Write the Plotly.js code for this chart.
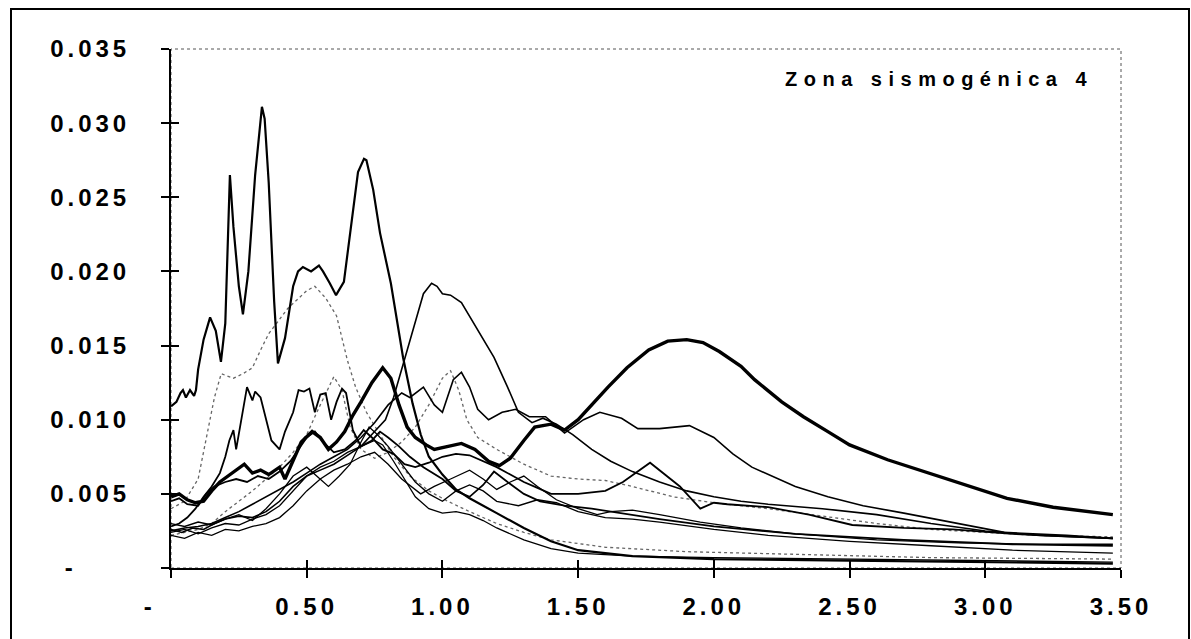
<!DOCTYPE html>
<html>
<head>
<meta charset="utf-8">
<script src="https://cdn.plot.ly/plotly-3.0.1.min.js"></script>
<style>
  html, body { margin: 0; padding: 0; background: #fff; }
  #chart { width: 1191px; height: 639px; }
  .xtick text, .ytick text { letter-spacing: 4px; }
  .annotation-text { letter-spacing: 6.5px; }
</style>
</head>
<body>
<div id="chart"></div>
<script>
// ---- Data (period T in s, spectral value) ----
const NB = '\u00A0';
const xTickVals = [0, 0.5, 1.0, 1.5, 2.0, 2.5, 3.0, 3.5];
const xTickText = ['-' + NB.repeat(4), '0.50', '1.00', '1.50', '2.00', '2.50', '3.00', '3.50'];
const yTickVals = [0, 0.005, 0.010, 0.015, 0.020, 0.025, 0.030, 0.035];
const yTickText = ['-' + NB.repeat(5), '0.005', '0.010', '0.015', '0.020', '0.025', '0.030', '0.035'];
const chartTitle = 'Zona sismogénica 4';

const serieA = [[0,0.0109],[0.02,0.0112],[0.035,0.0118],[0.044,0.0120],[0.055,0.0115],[0.07,0.0120],[0.085,0.0116],[0.092,0.0120],[0.10,0.0134],[0.12,0.0154],[0.144,0.0169],[0.165,0.0160],[0.184,0.0139],[0.20,0.0165],[0.217,0.0265],[0.23,0.0230],[0.25,0.0190],[0.265,0.0171],[0.285,0.0200],[0.31,0.0265],[0.335,0.0311],[0.345,0.0303],[0.36,0.0260],[0.38,0.0180],[0.394,0.0138],[0.42,0.0155],[0.45,0.0190],[0.468,0.0200],[0.486,0.0203],[0.516,0.0200],[0.545,0.0204],[0.56,0.0200],[0.585,0.0192],[0.608,0.0184],[0.637,0.0193],[0.66,0.0225],[0.689,0.0267],[0.711,0.0276],[0.72,0.0275],[0.745,0.0255],[0.77,0.0226],[0.81,0.0192],[0.855,0.0142],[0.89,0.0111],[0.92,0.0090],[0.95,0.0075],[1.0,0.0063],[1.05,0.0053],[1.1,0.0047],[1.2,0.0037],[1.3,0.0027],[1.4,0.0018],[1.5,0.0012],[1.7,0.0008],[2.0,0.0006],[2.5,0.0005],[3.0,0.0004],[3.47,0.0003]];

const serieB = [[0,0.0048],[0.03,0.0050],[0.06,0.0046],[0.09,0.0044],[0.12,0.0045],[0.15,0.0052],[0.18,0.0058],[0.21,0.0062],[0.24,0.0066],[0.27,0.0070],[0.30,0.0064],[0.33,0.0066],[0.36,0.0063],[0.40,0.0068],[0.42,0.0060],[0.45,0.0072],[0.48,0.0085],[0.52,0.0092],[0.55,0.0088],[0.58,0.0080],[0.61,0.0085],[0.64,0.0092],[0.67,0.0103],[0.70,0.0112],[0.74,0.0125],[0.78,0.0135],[0.81,0.0128],[0.84,0.0110],[0.87,0.0095],[0.90,0.0088],[0.94,0.0083],[0.97,0.0080],[1.02,0.0082],[1.07,0.0084],[1.12,0.0080],[1.17,0.0072],[1.21,0.0069],[1.25,0.0074],[1.30,0.0086],[1.34,0.0095],[1.40,0.0097],[1.45,0.0093],[1.50,0.0100],[1.55,0.0110],[1.61,0.0122],[1.68,0.0135],[1.76,0.0147],[1.83,0.0153],[1.90,0.0154],[1.96,0.0152],[2.02,0.0146],[2.10,0.0136],[2.15,0.0127],[2.25,0.0112],[2.33,0.0102],[2.42,0.0092],[2.50,0.0083],[2.64,0.0073],[2.76,0.0066],[2.88,0.0059],[3.00,0.0052],[3.08,0.0047],[3.25,0.0041],[3.38,0.0038],[3.47,0.0036]];

const serieC = [[0,0.0025],[0.05,0.0027],[0.1,0.0028],[0.15,0.0030],[0.2,0.0034],[0.25,0.0038],[0.3,0.0043],[0.35,0.0048],[0.4,0.0053],[0.45,0.0058],[0.5,0.0064],[0.55,0.0070],[0.6,0.0075],[0.65,0.0080],[0.7,0.0088],[0.75,0.0098],[0.80,0.0110],[0.85,0.0118],[0.88,0.0115],[0.93,0.0122],[0.97,0.0110],[1.0,0.0105],[1.04,0.0127],[1.07,0.0132],[1.10,0.0122],[1.13,0.0107],[1.17,0.0100],[1.22,0.0105],[1.27,0.0107],[1.32,0.0102],[1.38,0.0102],[1.45,0.0091],[1.52,0.0100],[1.58,0.0105],[1.66,0.0101],[1.72,0.0094],[1.80,0.0094],[1.91,0.0096],[2.0,0.0088],[2.07,0.0077],[2.14,0.0068],[2.3,0.0055],[2.42,0.0048],[2.55,0.0042],[2.70,0.0037],[2.9,0.0030],[3.07,0.0024],[3.3,0.0022],[3.47,0.0020]];

const serieD = [[0,0.0028],[0.03,0.0030],[0.06,0.0034],[0.09,0.0040],[0.12,0.0048],[0.15,0.0055],[0.18,0.0064],[0.2,0.0075],[0.215,0.0086],[0.23,0.0093],[0.24,0.0080],[0.255,0.0095],[0.28,0.0122],[0.30,0.0113],[0.31,0.0119],[0.33,0.0115],[0.37,0.0086],[0.40,0.0080],[0.42,0.0092],[0.45,0.0105],[0.47,0.0120],[0.49,0.0119],[0.51,0.0121],[0.53,0.0105],[0.55,0.0117],[0.57,0.0118],[0.59,0.0100],[0.61,0.0112],[0.63,0.0121],[0.645,0.0118],[0.67,0.0093],[0.70,0.0082],[0.74,0.0086],[0.77,0.0092],[0.80,0.0088],[0.84,0.0082],[0.88,0.0075],[0.93,0.0068],[1.0,0.0060],[1.05,0.0052],[1.10,0.0048],[1.15,0.0056],[1.19,0.0065],[1.24,0.0058],[1.30,0.0050],[1.36,0.0045],[1.45,0.0042],[1.55,0.0040],[1.65,0.0037],[1.8,0.0033],[2.0,0.0028],[2.3,0.0023],[2.7,0.0019],[3.1,0.0016],[3.47,0.0015]];

const serieE = [[0,0.0026],[0.04,0.0024],[0.08,0.0027],[0.12,0.0026],[0.16,0.0030],[0.2,0.0033],[0.25,0.0035],[0.3,0.0034],[0.35,0.0038],[0.40,0.0045],[0.45,0.0055],[0.50,0.0062],[0.55,0.0066],[0.60,0.0070],[0.65,0.0076],[0.70,0.0082],[0.75,0.0092],[0.79,0.0100],[0.82,0.0115],[0.86,0.0140],[0.90,0.0165],[0.93,0.0185],[0.96,0.0192],[0.98,0.0190],[1.00,0.0185],[1.03,0.0184],[1.07,0.0179],[1.13,0.0160],[1.19,0.0142],[1.24,0.0122],[1.28,0.0105],[1.33,0.0098],[1.37,0.0101],[1.42,0.0097],[1.48,0.0090],[1.55,0.0080],[1.62,0.0072],[1.70,0.0065],[1.80,0.0058],[1.90,0.0052],[2.0,0.0048],[2.1,0.0045],[2.2,0.0043],[2.4,0.0040],[2.6,0.0036],[2.8,0.0030],[3.0,0.0025],[3.2,0.0022],[3.47,0.0020]];

const serieG = [[0,0.0045],[0.03,0.0047],[0.06,0.0043],[0.1,0.0042],[0.13,0.0050],[0.16,0.0055],[0.2,0.0058],[0.24,0.0060],[0.28,0.0058],[0.32,0.0062],[0.36,0.0060],[0.40,0.0065],[0.44,0.0072],[0.47,0.0080],[0.50,0.0088],[0.53,0.0092],[0.56,0.0085],[0.60,0.0078],[0.64,0.0080],[0.68,0.0086],[0.71,0.0093],[0.74,0.0088],[0.78,0.0080],[0.82,0.0077],[0.86,0.0070],[0.90,0.0068],[0.95,0.0071],[1.0,0.0075],[1.05,0.0077],[1.10,0.0076],[1.15,0.0072],[1.20,0.0068],[1.25,0.0063],[1.30,0.0058],[1.35,0.0054],[1.40,0.0050],[1.50,0.0050],[1.60,0.0052],[1.665,0.0058],[1.765,0.0071],[1.875,0.0055],[1.95,0.0040],[2.0,0.0044],[2.05,0.0043],[2.2,0.0041],[2.35,0.0036],[2.51,0.0029],[2.7,0.0027],[2.88,0.0026],[3.1,0.0023],[3.47,0.0020]];

const serieH = [[0,0.0040],[0.05,0.0045],[0.1,0.0060],[0.13,0.0088],[0.145,0.0102],[0.16,0.0115],[0.185,0.0131],[0.23,0.0128],[0.265,0.0131],[0.30,0.0135],[0.33,0.0147],[0.36,0.0158],[0.43,0.0175],[0.5,0.0187],[0.53,0.0190],[0.57,0.0182],[0.61,0.0170],[0.65,0.0140],[0.68,0.0122],[0.72,0.0105],[0.77,0.0090],[0.82,0.0075],[0.88,0.0062],[0.95,0.0052],[1.02,0.0045],[1.1,0.0038],[1.2,0.0030],[1.3,0.0024],[1.4,0.0019],[1.6,0.0014],[1.9,0.0011],[2.3,0.0009],[2.8,0.0007],[3.47,0.0006]];

const serieI = [[0,0.0022],[0.05,0.0024],[0.1,0.0026],[0.15,0.0030],[0.2,0.0038],[0.25,0.0045],[0.3,0.0052],[0.35,0.0060],[0.40,0.0068],[0.45,0.0078],[0.50,0.0090],[0.55,0.0110],[0.60,0.0129],[0.63,0.0120],[0.66,0.0095],[0.70,0.0080],[0.75,0.0074],[0.80,0.0078],[0.85,0.0085],[0.90,0.0095],[0.95,0.0110],[1.0,0.0128],[1.03,0.0133],[1.06,0.0120],[1.09,0.0100],[1.13,0.0088],[1.2,0.0080],[1.3,0.0070],[1.4,0.0062],[1.5,0.0060],[1.6,0.0059],[1.7,0.0055],[1.85,0.0048],[2.0,0.0044],[2.2,0.0040],[2.4,0.0035],[2.6,0.0030],[2.8,0.0026],[3.0,0.0024],[3.2,0.0022],[3.47,0.0021]];

const serieJ = [[0,0.0024],[0.05,0.0026],[0.1,0.0023],[0.15,0.0027],[0.2,0.0030],[0.25,0.0029],[0.3,0.0033],[0.35,0.0036],[0.40,0.0042],[0.45,0.0052],[0.5,0.0062],[0.55,0.0068],[0.6,0.0072],[0.65,0.0078],[0.70,0.0082],[0.75,0.0086],[0.78,0.0083],[0.82,0.0072],[0.86,0.0060],[0.90,0.0048],[0.95,0.0040],[1.0,0.0037],[1.05,0.0038],[1.10,0.0036],[1.15,0.0032],[1.2,0.0027],[1.3,0.0019],[1.4,0.0013],[1.5,0.0010],[1.7,0.0008],[2.0,0.0007],[2.5,0.0006],[3.0,0.0005],[3.47,0.0004]];

const serieK = [[0,0.0030],[0.05,0.0028],[0.1,0.0031],[0.15,0.0029],[0.2,0.0033],[0.25,0.0036],[0.3,0.0032],[0.35,0.0040],[0.4,0.0050],[0.45,0.0062],[0.5,0.0068],[0.55,0.0060],[0.58,0.0055],[0.62,0.0062],[0.66,0.0070],[0.70,0.0085],[0.73,0.0095],[0.76,0.0090],[0.80,0.0082],[0.85,0.0070],[0.90,0.0058],[0.95,0.0050],[1.0,0.0045],[1.05,0.0052],[1.10,0.0056],[1.15,0.0052],[1.2,0.0045],[1.28,0.0042],[1.35,0.0046],[1.42,0.0044],[1.5,0.0038],[1.6,0.0034],[1.7,0.0033],[1.8,0.0031],[2.0,0.0026],[2.2,0.0022],[2.5,0.0018],[2.8,0.0015],[3.1,0.0012],[3.47,0.0010]];

const serieL = [[0,0.0022],[0.05,0.0020],[0.1,0.0024],[0.15,0.0022],[0.2,0.0026],[0.25,0.0025],[0.3,0.0028],[0.35,0.0030],[0.4,0.0034],[0.45,0.0042],[0.5,0.0052],[0.55,0.0060],[0.6,0.0066],[0.65,0.0070],[0.7,0.0075],[0.75,0.0078],[0.8,0.0070],[0.85,0.0060],[0.92,0.0050],[0.97,0.0055],[1.03,0.0060],[1.1,0.0066],[1.15,0.0060],[1.2,0.0053],[1.25,0.0058],[1.3,0.0062],[1.35,0.0055],[1.42,0.0046],[1.5,0.0040],[1.57,0.0036],[1.62,0.0038],[1.7,0.0039],[1.8,0.0036],[1.95,0.0031],[2.1,0.0027],[2.3,0.0023],[2.6,0.0019],[2.9,0.0017],[3.2,0.0016],[3.47,0.0016]];

// ---- Styles ----
const solid = (w) => ({ color: '#000', width: w });
const seriesList = [
  { data: serieH, line: { color: '#666', width: 1.3, dash: 'dot' } },
  { data: serieI, line: { color: '#666', width: 1.3, dash: 'dot' } },
  { data: serieJ, line: solid(1.3) },
  { data: serieK, line: solid(1.3) },
  { data: serieL, line: solid(1.3) },
  { data: serieG, line: solid(1.8) },
  { data: serieD, line: solid(1.8) },
  { data: serieE, line: solid(1.6) },
  { data: serieC, line: solid(1.6) },
  { data: serieA, line: solid(2.2) },
  { data: serieB, line: solid(3.4) }
];

const traces = seriesList.map(s => ({
  type: 'scatter', mode: 'lines',
  x: s.data.map(p => p[0]), y: s.data.map(p => p[1]),
  line: s.line, showlegend: false, hoverinfo: 'skip'
}));
traces.push({ type: 'scatter', mode: 'lines', x: [], y: [], xaxis: 'x2', yaxis: 'y2', showlegend: false });

const tickFont = { family: 'Liberation Sans, Arial, sans-serif', size: 24, color: '#000', weight: 'bold' };
const W = 1191, H = 639;
const M = { l: 171, r: 70, t: 49, b: 71 };
const pw = W - M.l - M.r, ph = H - M.t - M.b;
const px = (v) => (v - M.l) / pw;       // pixel -> paper x (frame only)
const py = (v) => (H - M.b - v) / ph;   // pixel -> paper y (frame only)

const layout = {
  width: W, height: H,
  margin: M,
  paper_bgcolor: '#fff', plot_bgcolor: '#fff',
  showlegend: false,
  xaxis: {
    range: [0, 3.5], tickmode: 'array', tickvals: xTickVals, ticktext: xTickText,
    ticks: 'outside', ticklen: 8, tickwidth: 2, tickcolor: '#000',
    showline: true, linewidth: 2, linecolor: '#000', showgrid: false, zeroline: false,
    tickfont: tickFont, ticklabelstandoff: 8
  },
  yaxis: {
    range: [0, 0.035], tickmode: 'array', tickvals: yTickVals, ticktext: yTickText,
    ticks: 'outside', ticklen: 8, tickwidth: 2, tickcolor: '#000',
    showline: true, linewidth: 2, linecolor: '#000', showgrid: false, zeroline: false,
    tickfont: tickFont, ticklabelstandoff: 26
  },
  xaxis2: {
    overlaying: 'x', anchor: 'y2', range: [0, 3.5], tickmode: 'array', tickvals: xTickVals,
    ticks: 'inside', ticklen: 8, tickwidth: 2, tickcolor: '#000',
    showticklabels: false, showline: false, showgrid: false, zeroline: false
  },
  yaxis2: {
    overlaying: 'y', anchor: 'x2', range: [0, 0.035], tickmode: 'array', tickvals: yTickVals,
    ticks: 'inside', ticklen: 8, tickwidth: 2, tickcolor: '#000',
    showticklabels: false, showline: false, showgrid: false, zeroline: false
  },
  shapes: [
    { type: 'rect', xref: 'paper', yref: 'paper', x0: 0, x1: 1, y0: 0, y1: 1,
      line: { color: '#555', width: 1, dash: 'dot' }, layer: 'below' },
    { type: 'rect', xref: 'paper', yref: 'paper', x0: px(11), x1: px(1189), y0: py(645), y1: py(9),
      line: { color: '#000', width: 2 } }
  ],
  annotations: [
    { text: chartTitle, xref: 'paper', yref: 'paper', x: px(1095), y: py(79),
      xanchor: 'right', yanchor: 'middle', showarrow: false,
      font: { family: 'Liberation Sans, Arial, sans-serif', size: 20, color: '#000', weight: 'bold' } }
  ]
};

Plotly.newPlot('chart', traces, layout, { staticPlot: true, displayModeBar: false });
</script>
</body>
</html>
